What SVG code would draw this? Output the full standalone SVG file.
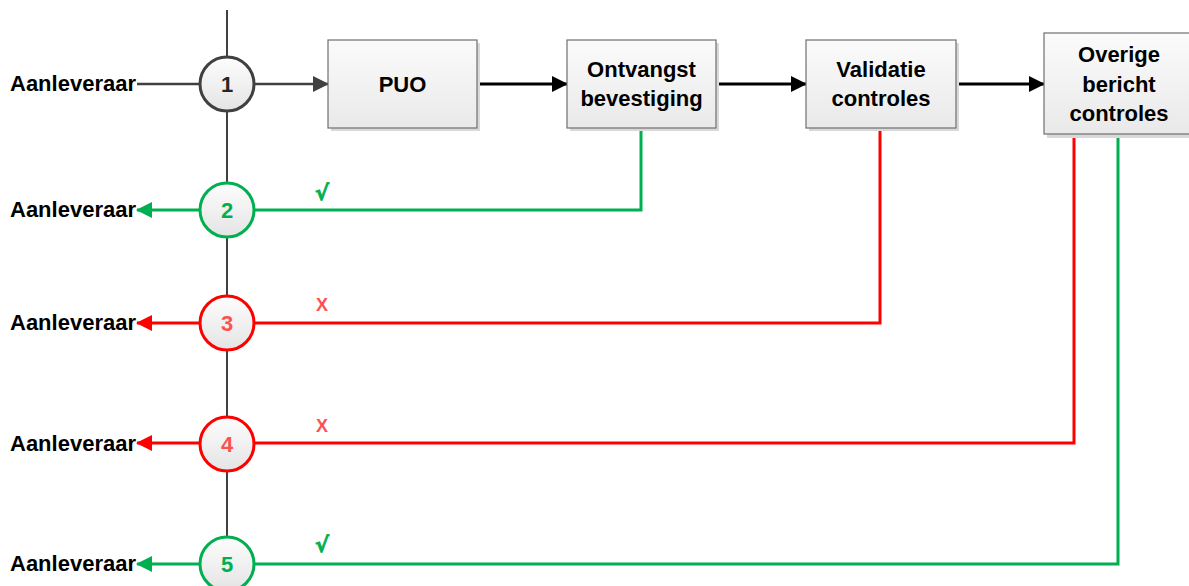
<svg xmlns="http://www.w3.org/2000/svg" width="1189" height="586" viewBox="0 0 1189 586">
<style>
text{font-family:"Liberation Sans",Arial,sans-serif;font-weight:bold;font-size:22px;fill:#000}
.mid{text-anchor:middle}
.box{fill:url(#bg);stroke:#6f6f6f;stroke-width:1.2}
.shadow{fill:#d9d9d9}
.circ{fill:url(#cg);stroke-width:3}
.gray{stroke:#404040}
.green{stroke:#00B050}
.red{stroke:#FF0000}
.conn{fill:none;stroke-width:3}
.lbl{font-size:18px}
.chk{font-family:"DejaVu Sans",sans-serif;font-size:21px;fill:#00B050;stroke:#00B050;stroke-width:0.8}
</style>
<defs>
<linearGradient id="bg" x1="0" y1="0" x2="0" y2="1"><stop offset="0" stop-color="#fbfbfb"/><stop offset="1" stop-color="#e9e9e9"/></linearGradient>
<linearGradient id="cg" x1="0" y1="0" x2="0" y2="1"><stop offset="0" stop-color="#fdfdfd"/><stop offset="1" stop-color="#e4e4e4"/></linearGradient>
<marker id="ag" markerWidth="16" markerHeight="16" refX="15" refY="8" orient="auto" markerUnits="userSpaceOnUse" viewBox="0 0 16 16"><path d="M0,0 L16,8 L0,16 z" fill="#404040"/></marker>
<marker id="agr" markerWidth="16" markerHeight="16" refX="15" refY="8" orient="auto" markerUnits="userSpaceOnUse" viewBox="0 0 16 16"><path d="M0,0 L16,8 L0,16 z" fill="#00B050"/></marker>
<marker id="ar" markerWidth="16" markerHeight="16" refX="15" refY="8" orient="auto" markerUnits="userSpaceOnUse" viewBox="0 0 16 16"><path d="M0,0 L16,8 L0,16 z" fill="#FF0000"/></marker>
<marker id="ak" markerWidth="16" markerHeight="16" refX="15" refY="8" orient="auto" markerUnits="userSpaceOnUse" viewBox="0 0 16 16"><path d="M0,0 L16,8 L0,16 z" fill="#000"/></marker>
</defs>
<rect width="1189" height="586" fill="#fff"/>

<g id="connectors">
<line x1="227" y1="10" x2="227" y2="545" stroke="#404040" stroke-width="2"/>
<line x1="137" y1="84" x2="200" y2="84" stroke="#404040" stroke-width="2.5"/>
<line x1="254" y1="84" x2="328" y2="84" stroke="#404040" stroke-width="2.5" marker-end="url(#ag)"/>
<line x1="477" y1="84" x2="567" y2="84" stroke="#000" stroke-width="3" marker-end="url(#ak)"/>
<line x1="716" y1="84" x2="806" y2="84" stroke="#000" stroke-width="3" marker-end="url(#ak)"/>
<line x1="956" y1="84" x2="1044" y2="84" stroke="#000" stroke-width="3" marker-end="url(#ak)"/>
<line x1="200" y1="210" x2="137" y2="210" class="conn green" marker-end="url(#agr)"/>
<line x1="200" y1="323" x2="137" y2="323" class="conn red" marker-end="url(#ar)"/>
<line x1="200" y1="443" x2="137" y2="443" class="conn red" marker-end="url(#ar)"/>
<line x1="200" y1="564" x2="137" y2="564" class="conn green" marker-end="url(#agr)"/>
<polyline points="641,128 641,210 254,210" class="conn green"/>
<polyline points="880,128 880,323 254,323" class="conn red"/>
<polyline points="1074,134 1074,443 254,443" class="conn red"/>
<polyline points="1118,134 1118,564 254,564" class="conn green"/>
<text x="322" y="200" class="chk mid">√</text>
<text x="322" y="311" class="lbl mid" style="fill:#FF5050">X</text>
<text x="322" y="432" class="lbl mid" style="fill:#FF5050">X</text>
<text x="322" y="552" class="chk mid">√</text>
</g>

<g id="aanleveraar1"><text x="10" y="91">Aanleveraar</text></g>
<g id="aanleveraar2"><text x="10" y="217">Aanleveraar</text></g>
<g id="aanleveraar3"><text x="10" y="330">Aanleveraar</text></g>
<g id="aanleveraar4"><text x="10" y="451">Aanleveraar</text></g>
<g id="aanleveraar5"><text x="10" y="571">Aanleveraar</text></g>

<g id="c1"><circle cx="227" cy="84" r="27" class="circ gray"/><text x="227" y="92" class="mid" style="fill:#262626">1</text></g>
<g id="c2"><circle cx="227" cy="210" r="27" class="circ green"/><text x="227" y="218" class="mid" style="fill:#00B050">2</text></g>
<g id="c3"><circle cx="227" cy="323" r="27" class="circ red"/><text x="227" y="331" class="mid" style="fill:#FF5050">3</text></g>
<g id="c4"><circle cx="227" cy="444" r="27" class="circ red"/><text x="227" y="452" class="mid" style="fill:#FF5050">4</text></g>
<g id="c5"><circle cx="227" cy="564" r="27" class="circ green"/><text x="227" y="572" class="mid" style="fill:#00B050">5</text></g>

<g id="puo"><rect x="331" y="43" width="149" height="88" class="shadow"/><rect x="328" y="40" width="149" height="88" class="box"/><text x="402.5" y="92" class="mid">PUO</text></g>
<g id="ontvangst"><rect x="570" y="43" width="149" height="88" class="shadow"/><rect x="567" y="40" width="149" height="88" class="box"/><text x="641.5" y="77" class="mid">Ontvangst</text><text x="641.5" y="106" class="mid">bevestiging</text></g>
<g id="validatie"><rect x="809" y="43" width="150" height="88" class="shadow"/><rect x="806" y="40" width="150" height="88" class="box"/><text x="881" y="77" class="mid">Validatie</text><text x="881" y="106" class="mid">controles</text></g>
<g id="overige"><rect x="1047" y="37" width="145" height="101" class="shadow"/><rect x="1044" y="33" width="150" height="101" class="box"/><text x="1119" y="62" class="mid">Overige</text><text x="1119" y="92" class="mid">bericht</text><text x="1119" y="121" class="mid">controles</text></g>
</svg>
